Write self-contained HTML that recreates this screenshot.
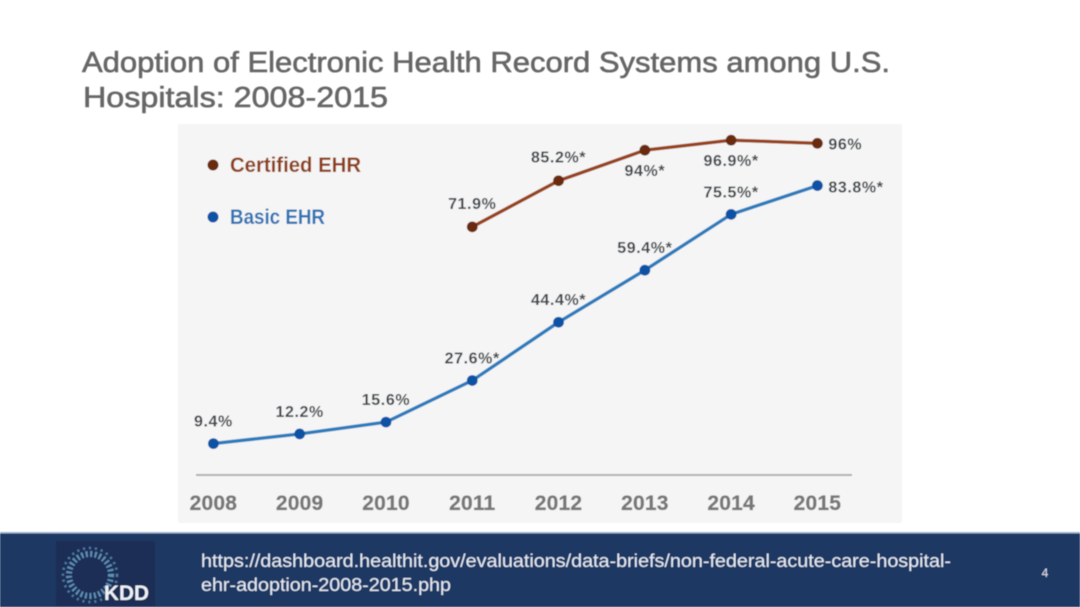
<!DOCTYPE html>
<html lang="en">
<head>
<meta charset="utf-8">
<title>Adoption of Electronic Health Record Systems</title>
<style>
html,body{margin:0;padding:0;background:#fff;}
#slide{position:relative;width:1080px;height:607px;overflow:hidden;background:#fff;font-family:"Liberation Sans",sans-serif;}
svg{position:absolute;left:0;top:0;}
</style>
</head>
<body>
<div id="slide">
<svg id="canvas" width="1080" height="607" viewBox="0 0 1080 607" xmlns="http://www.w3.org/2000/svg">
  <defs>
    <filter id="soft" x="-5%" y="-5%" width="110%" height="110%"><feGaussianBlur stdDeviation="0.45"/></filter>
  </defs>
  <g filter="url(#soft)">
    <text x="82" y="72" font-size="29" fill="#666" stroke="#666" stroke-width="0.6" textLength="808" lengthAdjust="spacingAndGlyphs">Adoption of Electronic Health Record Systems among U.S.</text>
    <text x="83" y="107" font-size="29" fill="#666" stroke="#666" stroke-width="0.6" textLength="305" lengthAdjust="spacingAndGlyphs">Hospitals: 2008-2015</text>
    <rect x="178" y="124" width="724" height="399" rx="2" fill="#f5f5f5"/>
    <g id="chart"></g>
    <g>
      <g>
        <circle cx="213" cy="165" r="5.5" fill="#6b2a0e"/>
        <text x="230" y="172" font-size="21" font-weight="700" fill="#8f4019" textLength="131" lengthAdjust="spacingAndGlyphs">Certified EHR</text>
      </g>
      <g>
        <circle cx="213" cy="217" r="5.5" fill="#0b52a5"/>
        <text x="230" y="224" font-size="21" font-weight="700" fill="#2f74b5" textLength="95" lengthAdjust="spacingAndGlyphs">Basic EHR</text>
      </g>
    </g>
    <rect x="0" y="533" width="1080" height="74" fill="#1f3864"/>
    <rect x="0" y="532" width="1080" height="1.5" fill="#9fb2d2"/>
    <g>
      <rect x="56" y="541" width="99" height="65" fill="#1a2f55"/>
      <circle cx="90" cy="575" r="21" fill="none" stroke="#5f8fb5" stroke-width="6" stroke-dasharray="2 2.5"/>
      <circle cx="90" cy="575" r="27" fill="none" stroke="#4d7ca3" stroke-width="2.5" stroke-dasharray="2 4"/>
      <text x="104" y="600" font-size="21" font-weight="700" fill="#eef2f6" textLength="45" lengthAdjust="spacingAndGlyphs">KDD</text>
    </g>
    <a>
      <text x="201" y="567" font-size="18" fill="#e6ebf3" textLength="750" lengthAdjust="spacingAndGlyphs">https://dashboard.healthit.gov/evaluations/data-briefs/non-federal-acute-care-hospital-</text>
      <text x="201" y="591" font-size="18" fill="#e6ebf3" textLength="250" lengthAdjust="spacingAndGlyphs">ehr-adoption-2008-2015.php</text>
    </a>
    <text x="1045" y="577" font-size="12" fill="#dfe5ee" text-anchor="middle">4</text>
  </g>
</svg>
</div>
<script>
const years = ['2008', '2009', '2010', '2011', '2012', '2013', '2014', '2015'];
const basicValues = [9.4, 12.2, 15.6, 27.6, 44.4, 59.4, 75.5, 83.8];
const basicLabels = ['9.4%', '12.2%', '15.6%', '27.6%*', '44.4%*', '59.4%*', '75.5%*', '83.8%*'];
const certifiedValues = [null, null, null, 71.9, 85.2, 94, 96.9, 96];
const certifiedLabels = ['', '', '', '71.9%', '85.2%*', '94%*', '96.9%*', '96%'];

function xScale(i) { return 213.4 + i * (817.4 - 213.4) / (years.length - 1); }
function yScale(v) { return 476.2 - v * 3.468; }

const NS = 'http://www.w3.org/2000/svg';
const chart = document.getElementById('chart');

function make(tag, attrs, parent) {
  const el = document.createElementNS(NS, tag);
  for (const k in attrs) el.setAttribute(k, attrs[k]);
  parent.appendChild(el);
  return el;
}

const axisLine = make('line', { x1: 196, x2: 852, y1: 475, y2: 475, stroke: '#b0b0b0', 'stroke-width': 2 }, chart);



years.forEach(function (year, i) {
  const tick = make('text', { x: xScale(i), y: 510, 'font-size': 21, 'font-weight': 700, fill: '#777', stroke: '#777', 'stroke-width': 0.3, 'text-anchor': 'middle', 'letter-spacing': 0.2 }, chart);
  tick.textContent = year;
  
  
});

function drawSeries(values, lineColor, dotColor, seriesName) {
  let d = '';
  values.forEach(function (v, i) {
    if (v === null) return;
    d += (d ? 'L' : 'M') + xScale(i) + ' ' + yScale(v);
  });
  const line = make('path', { d: d, fill: 'none', stroke: lineColor, 'stroke-width': 3.4, 'stroke-linejoin': 'round' }, chart);
  
  
  values.forEach(function (v, i) {
    if (v === null) return;
    const dot = make('circle', { cx: xScale(i), cy: yScale(v), r: 5.4, fill: dotColor }, chart);
    
    
  });
}

function drawLabels(values, labels, placeLabel, seriesName) {
  values.forEach(function (v, i) {
    if (v === null) return;
    const p = placeLabel(i);
    const t = make('text', {
      x: xScale(i) + p.dx, y: yScale(v) + p.dy,
      'font-size': 16, 'font-weight': 700, fill: '#40464b',
      'text-anchor': p.anchor, 'letter-spacing': 0.6
    }, chart);
    t.textContent = labels[i];
    
    
  });
}

drawSeries(certifiedValues, '#97421b', '#6b2a0e', 'certified-ehr');
drawSeries(basicValues, '#2c7bbd', '#0b52a5', 'basic-ehr');

drawLabels(basicValues, basicLabels, function (i) {
  if (i === years.length - 1) return { dx: 11, dy: 7, anchor: 'start' };
  return { dx: 0, dy: -17, anchor: 'middle' };
}, 'basic-ehr');

drawLabels(certifiedValues, certifiedLabels, function (i) {
  if (i === years.length - 1) return { dx: 11, dy: 6, anchor: 'start' };
  if (i === 5 || i === 6) return { dx: 0, dy: 26, anchor: 'middle' };
  return { dx: 0, dy: -18, anchor: 'middle' };
}, 'certified-ehr');
</script>
</body>
</html>
